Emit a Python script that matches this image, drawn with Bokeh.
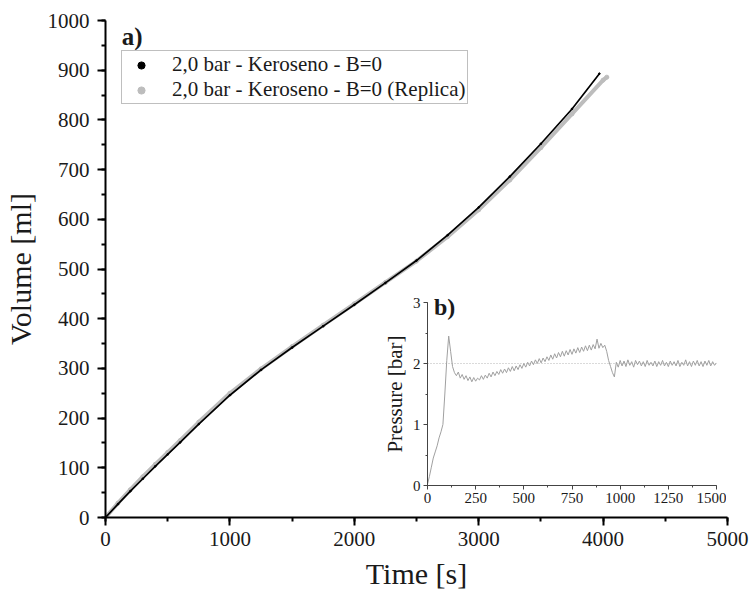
from bokeh.plotting import figure
from bokeh.models import (Range1d, SingleIntervalTicker, Legend, LegendItem,
                          Label, GridBox)
from bokeh.embed import file_html
from bokeh.resources import INLINE

FONT = "'Liberation Serif', 'Times New Roman', serif"

# ---- main panel data: Volume [ml] vs Time [s]
black_t = [0, 100, 200, 300, 400, 500, 600, 750, 1000, 1250, 1500, 1750, 2000,
           2250, 2500, 2750, 3000, 3250, 3500, 3750, 3970]
black_v = [0, 27, 53, 78, 103, 127, 151, 188, 246, 297, 342, 385, 428,
           472, 517, 568, 624, 686, 752, 822, 893]
gray_t = [0, 100, 200, 300, 400, 500, 600, 750, 1000, 1250, 1500, 1750, 2000,
          2250, 2500, 2750, 3000, 3250, 3500, 3750, 4000, 4030]
gray_v = [0, 29, 56, 82, 107, 131, 155, 192, 250, 299, 344, 387, 430,
          473, 516, 565, 619, 679, 744, 812, 880, 886]
series_labels = ["2,0 bar - Keroseno - B=0", "2,0 bar - Keroseno - B=0 (Replica)"]

# ---- inset data: Pressure [bar] vs Time [s]
press_t = [0, 10, 20, 30, 40, 50, 60, 70, 80, 90, 100, 110, 120, 130, 140, 150,
           160, 170, 180, 190, 200, 210, 220, 230, 240, 250, 260, 270, 280, 290,
           300, 310, 320, 330, 340, 350, 360, 370, 380, 390, 400, 410, 420, 430,
           440, 450, 460, 470, 480, 490, 500, 510, 520, 530, 540, 550, 560, 570,
           580, 590, 600, 610, 620, 630, 640, 650, 660, 670, 680, 690, 700, 710,
           720, 730, 740, 750, 760, 770, 780, 790, 800, 810, 820, 830, 840, 850,
           860, 870, 880, 890, 900, 910, 920, 930, 940, 950, 960, 970, 980, 990,
           1000, 1010, 1020, 1030, 1040, 1050, 1060, 1070, 1080, 1090, 1100, 1110,
           1120, 1130, 1140, 1150, 1160, 1170, 1180, 1190, 1200, 1210, 1220, 1230,
           1240, 1250, 1260, 1270, 1280, 1290, 1300, 1310, 1320, 1330, 1340, 1350,
           1360, 1370, 1380, 1390, 1400, 1410, 1420, 1430, 1440, 1450, 1460, 1470,
           1480, 1490, 1500]
press_p = [0.02, 0.15, 0.30, 0.45, 0.55, 0.65, 0.78, 0.88, 1.00, 1.50, 2.05, 2.45,
           2.20, 1.95, 1.85, 1.80, 1.86, 1.76, 1.82, 1.74, 1.80, 1.72, 1.78, 1.70,
           1.77, 1.71, 1.76, 1.73, 1.80, 1.74, 1.81, 1.76, 1.84, 1.78, 1.86, 1.80,
           1.87, 1.82, 1.90, 1.84, 1.91, 1.85, 1.93, 1.87, 1.95, 1.88, 1.96, 1.90,
           1.98, 1.92, 2.00, 1.94, 2.02, 1.96, 2.04, 1.98, 2.06, 2.00, 2.08, 2.01,
           2.09, 2.03, 2.11, 2.05, 2.14, 2.07, 2.16, 2.09, 2.18, 2.11, 2.20, 2.12,
           2.21, 2.14, 2.23, 2.15, 2.24, 2.17, 2.26, 2.18, 2.27, 2.20, 2.29, 2.21,
           2.30, 2.22, 2.31, 2.24, 2.40, 2.25, 2.33, 2.26, 2.30, 2.20, 2.05, 1.95,
           1.85, 1.78, 2.02, 1.94,
           2.05, 1.96, 2.04, 1.95, 2.06, 1.97, 2.03, 1.94, 2.05, 1.98, 2.04, 1.96,
           2.03, 1.95, 2.05, 1.97, 2.02, 1.96, 2.04, 1.95, 2.03, 1.97, 2.05, 1.96,
           2.02, 1.95, 2.04, 1.97, 2.03, 1.96, 2.05, 1.95, 2.02, 1.97, 2.06, 1.96,
           2.03, 1.95, 2.04, 1.97, 2.05, 1.96, 2.03, 1.95, 2.04, 1.97, 2.05, 1.96,
           2.03, 1.97, 2.01]
ref_t = [0, 1500]
ref_p = [2.0, 2.0]


def style_axes(p, lw, tick_out, minor_out, tick_font, label_font, color):
    for ax in (p.xaxis[0], p.yaxis[0]):
        ax.axis_line_width = lw
        ax.axis_line_color = color
        ax.major_tick_line_width = lw
        ax.major_tick_line_color = color
        ax.minor_tick_line_width = lw
        ax.minor_tick_line_color = color
        ax.major_tick_in = 0
        ax.major_tick_out = tick_out
        ax.minor_tick_in = 0
        ax.minor_tick_out = minor_out
        ax.major_label_text_font = FONT
        ax.major_label_text_font_size = tick_font
        ax.major_label_text_color = "#1a1a1a"
        ax.axis_label_text_font = FONT
        ax.axis_label_text_font_size = label_font
        ax.axis_label_text_font_style = "normal"
        ax.axis_label_text_color = "#1a1a1a"
    p.xgrid.visible = False
    p.ygrid.visible = False


# ---------------- main figure
main = figure(width=749, height=596, output_backend="svg", toolbar_location=None,
              x_range=Range1d(0, 5000), y_range=Range1d(0, 1000),
              min_border_left=105, min_border_right=22,
              min_border_top=20, min_border_bottom=79,
              x_axis_label="Time [s]", y_axis_label="Volume [ml]")
main.outline_line_color = None
main.xaxis.ticker = SingleIntervalTicker(interval=1000, num_minor_ticks=2)
main.yaxis.ticker = SingleIntervalTicker(interval=100, num_minor_ticks=2)
style_axes(main, 2, 8, 4, "21px", "30px", "black")
main.xaxis.major_label_standoff = 6
main.yaxis.major_label_standoff = 8
main.xaxis.axis_label_standoff = 8
main.yaxis.axis_label_standoff = 8

main.line(gray_t, gray_v, line_color="#bdbdbd", line_width=4)
sg = main.scatter(gray_t, gray_v, size=4, color="#bdbdbd")
main.line(black_t, black_v, line_color="black", line_width=1.7)
sb = main.scatter(black_t, black_v, size=1.7, color="black")

legend = Legend(items=[LegendItem(label=series_labels[0], renderers=[sb]),
                       LegendItem(label=series_labels[1], renderers=[sg])],
                location=(16, 413))
legend.border_line_color = "#808080"
legend.border_line_width = 1
legend.label_text_font = FONT
legend.label_text_font_size = "21px"
legend.label_text_color = "#1a1a1a"
legend.padding = 1
legend.spacing = 0
legend.margin = 0
legend.glyph_width = 36
legend.glyph_height = 18
legend.label_height = 18
legend.label_standoff = 13
main.add_layout(legend, "center")

main.add_layout(Label(x=130, y=994, text="a)", text_baseline="top",
                      text_font=FONT, text_font_size="25px",
                      text_font_style="bold", text_color="#1a1a1a"))
main.add_layout(Label(x=2640, y=449, text="b)", text_baseline="top",
                      text_font=FONT, text_font_size="24px",
                      text_font_style="bold", text_color="#1a1a1a"))

# ---------------- inset figure
inset = figure(width=349, height=233, output_backend="svg", toolbar_location=None,
               x_range=Range1d(0, 1500), y_range=Range1d(0, 3),
               min_border_left=50, min_border_right=10,
               min_border_top=20, min_border_bottom=30,
               y_axis_label="Pressure [bar]")
inset.background_fill_color = None
inset.border_fill_color = None
inset.outline_line_color = None
inset.xaxis.ticker = SingleIntervalTicker(interval=250, num_minor_ticks=2)
inset.yaxis.ticker = SingleIntervalTicker(interval=1, num_minor_ticks=2)
style_axes(inset, 1, 4, 2, "15px", "21px", "#444444")
inset.xaxis.major_label_standoff = 3
inset.yaxis.major_label_standoff = 3
inset.yaxis.axis_label_standoff = 3

inset.line(ref_t, ref_p, line_color="#b5b5b5", line_width=1, line_dash="1 2")
inset.line(press_t, press_p, line_color="#a0a0a0", line_width=1)

grid = GridBox(children=[(main, 0, 0, 3, 3), (inset, 1, 1, 1, 1)],
               rows=["282px", "233px", "81px"], cols=["377px", "349px", "23px"],
               width=749, height=596)

open("out.html", "w").write(file_html(grid, INLINE))
